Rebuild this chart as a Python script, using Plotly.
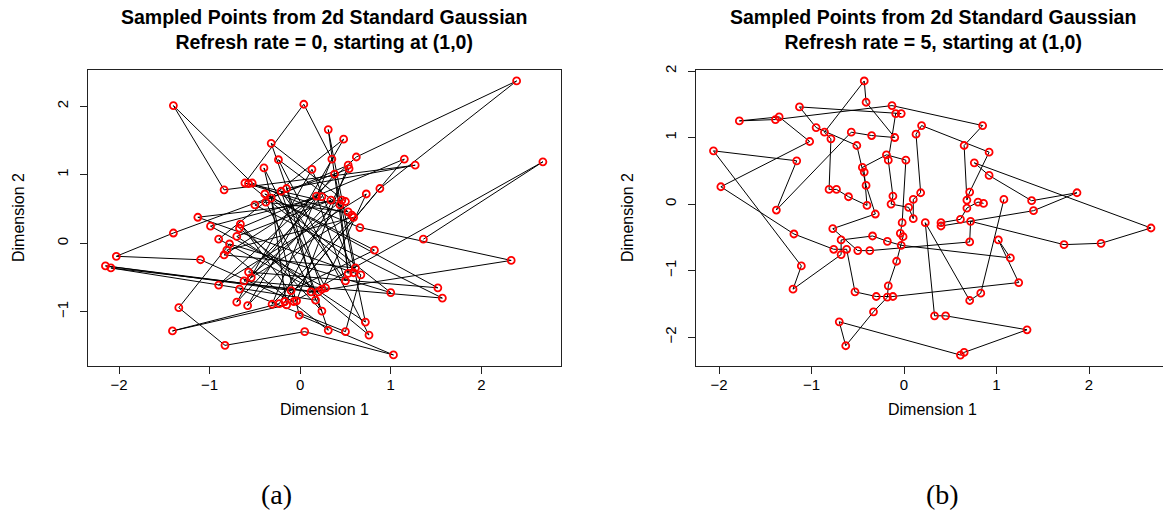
import plotly.graph_objects as go

# Panel (a): refresh rate 0 — samples in chain order
xa = [1.36, 2.68, -0.07, -1.10, -2.03, -1.40, 0.54, -0.23, -1.41, -0.15,
      -0.32, 1.00, -0.78, -1.34, -0.83, 0.05, 1.03, -0.01, -0.40, 0.28,
      -0.99, 0.24, -0.57, 1.52, -0.39, 0.82, -0.10, -2.15, 0.12, 2.33,
      0.66, -0.53, -1.40, -0.84, 1.27, -0.15, 0.17, -2.09, 0.20, -0.90,
      0.48, -0.58, 0.50, -0.32, 0.24, 0.73, -0.90, 0.62, 2.39, 0.88,
      -0.17, 1.15, -0.67, 0.76, -0.24, 0.53, -0.38, 0.24, -0.66, -0.04,
      0.53, -0.50, 1.57, -0.62, 0.46, -1.13, 0.59, 0.13, -0.70, 0.34,
      -0.70, 0.72, 0.38, -0.54, 0.57, -0.61, 0.04, 0.35, -0.31, 0.59,
      -0.81, 0.31, -0.21, 0.50, 0.18, -0.84, 0.61, 0.31, 0.53, 0.44,
      -0.57, 0.67, 0.50, -0.67]
ya = [0.06, 1.19, -0.85, -0.24, -0.19, 0.15, 1.09, -0.88, -1.28, -0.90,
      0.66, -0.72, -0.01, -0.94, -1.49, -1.29, -1.63, -1.05, 1.10, -0.65,
      0.25, 0.68, -0.42, -0.65, 0.72, -0.10, -0.69, -0.33, -0.71, -0.25,
      0.23, 0.88, 2.01, 0.78, 1.14, 0.80, -0.83, -0.36, -0.71, 0.06,
      1.52, -0.91, 0.61, 1.46, -0.67, 0.72, -0.61, 1.26, 2.37, 0.80,
      -0.85, 1.23, 0.22, -1.34, 1.22, 0.46, 0.60, -0.99, 0.28, -0.84,
      1.14, 0.56, -0.80, -0.55, 0.63, 0.38, -0.43, 1.08, -0.86, 0.63,
      0.10, -1.15, 1.01, -0.50, 0.41, 0.88, 2.03, 1.23, -0.89, 0.38,
      -0.10, -1.27, 0.76, -0.55, 0.69, -0.17, -0.36, 1.66, -0.44, 0.56,
      0.87, -0.46, -1.29, -0.67]

# Panel (b): refresh rate 5 — samples in chain order
xb = [1.08, 0.83, 0.71, 0.23, 0.33, 0.45, 1.33, 0.65, 0.61, -0.70,
      -0.63, -0.33, -0.18, -0.17, -0.08, -0.01, -0.04, -0.02, 0.02, -0.19,
      -0.45, -0.43, -0.40, -0.60, -0.73, -0.81, -0.79, -0.86, -0.43, -0.41,
      -0.10, -0.35, -0.57, -1.38, -1.16, -2.06, -1.11, -1.20, -0.68, -0.68,
      -0.34, -0.18, -0.03, 1.15, 1.02, 1.24, -0.12, -0.30, -0.53, -0.62,
      -0.76, -1.19, -1.98, -1.02, -1.35, -1.78, -1.39, -0.13, 0.85, 0.65,
      0.68, 0.71, 0.92, 0.19, 0.13, 0.18, 0.10, 0.10, 0.05, -0.14,
      -0.12, -0.17, -0.09, -0.03, -1.13, -0.95, -0.51, -0.41, -0.31, -0.77,
      -0.50, -0.37, 0.71, 0.72, 1.73, 2.13, 2.67, 0.76, 0.92, 1.38,
      1.87, 1.40, 0.40, 0.40, 0.61, 0.68, 0.80, 0.86]
yb = [0.07, -1.34, -1.45, -0.28, -1.68, -1.68, -1.89, -2.23, -2.27, -1.77,
      -2.13, -1.62, -1.40, -1.23, -0.86, -0.49, -0.44, -0.28, 0.66, 0.74,
      0.55, 0.48, -0.02, 0.11, 0.22, 0.22, 0.98, 1.08, 1.85, 1.53,
      1.00, 1.03, 1.08, -0.09, 0.65, 0.80, -0.93, -1.28, -0.76, -0.54,
      -0.48, -0.56, -0.62, -0.81, -0.54, -1.18, -1.39, -1.39, -1.32, -0.68,
      -0.68, -0.45, 0.26, 0.94, 1.31, 1.25, 1.27, 1.48, 1.18, 0.88,
      0.06, 0.18, 0.78, 1.18, 1.05, 0.17, 0.07, -0.22, -0.05, 0.00,
      0.12, 0.66, 1.36, 1.36, 1.46, 1.15, 0.88, 0.28, -0.15, -0.37,
      -0.70, -0.70, -0.57, -0.26, -0.61, -0.59, -0.36, 0.62, 0.43, 0.05,
      0.17, -0.10, -0.33, -0.28, -0.23, -0.06, 0.03, 0.01]

x_ticks = [-2, -1, 0, 1, 2]
ya_ticks = [-1, 0, 1, 2]
yb_ticks = [-2, -1, 0, 1, 2]

title_line1 = "Sampled Points from 2d Standard Gaussian"
title_a = "Refresh rate = 0, starting at (1,0)"
title_b = "Refresh rate = 5, starting at (1,0)"

W, H = 1163, 515
FONT = "Liberation Sans, Arial, sans-serif"


def px(x):
    return x / W


def py(y):
    return 1 - y / H


fig = go.Figure()
trace_style = dict(mode="lines+markers",
                   line=dict(color="black", width=1),
                   marker=dict(symbol="circle-open", size=7, color="red",
                               line=dict(color="red", width=1.8)),
                   showlegend=False, hoverinfo="skip")
fig.add_trace(go.Scatter(x=xa, y=ya, xaxis="x", yaxis="y", **trace_style))
fig.add_trace(go.Scatter(x=xb, y=yb, xaxis="x2", yaxis="y2", **trace_style))

ax_common = dict(showgrid=False, zeroline=False, showline=True,
                 linecolor="#222", linewidth=1, ticks="outside", ticklen=7,
                 tickwidth=1, tickcolor="#222", automargin=False,
                 tickfont=dict(family=FONT, size=15, color="black"))

ydom = [py(365.7), py(70)]
fig.update_layout(
    width=W, height=H,
    margin=dict(l=0, r=0, t=0, b=0, pad=0, autoexpand=False),
    paper_bgcolor="white", plot_bgcolor="white",
    xaxis=dict(domain=[px(87.7), px(561)], range=[-2.346, 2.88],
               tickvals=x_ticks, mirror=True, anchor="y",
               ticklabelstandoff=-2, **ax_common),
    yaxis=dict(domain=ydom, range=[-1.787, 2.53], tickvals=ya_ticks,
               tickangle=-90, mirror=True, anchor="x",
               ticklabelstandoff=6, **ax_common),
    xaxis2=dict(domain=[px(695.7), 1.0], range=[-2.252, 2.80],
                tickvals=x_ticks, mirror=True, anchor="y2",
                ticklabelstandoff=-2, **ax_common),
    yaxis2=dict(domain=ydom, range=[-2.43, 2.015], tickvals=yb_ticks,
                tickangle=-90, mirror=False, anchor="x2",
                ticklabelstandoff=6, **ax_common),
)

ann = []
for cx, sub in [(324.4, title_a), (932.6, title_b)]:
    ann.append(dict(x=px(cx), y=py(30), xref="paper", yref="paper",
                    text="<b>" + title_line1 + "</b><br><b>" + sub + "</b>",
                    showarrow=False, xanchor="center", yanchor="middle",
                    font=dict(family=FONT, size=19.5, color="black")))
    ann.append(dict(x=px(cx), y=py(409), xref="paper", yref="paper",
                    text="Dimension 1", showarrow=False, xanchor="center",
                    yanchor="middle",
                    font=dict(family=FONT, size=16, color="black")))
for cx in [18, 627]:
    ann.append(dict(x=px(cx), y=py(218), xref="paper", yref="paper",
                    text="Dimension 2", showarrow=False, textangle=-90,
                    xanchor="center", yanchor="middle",
                    font=dict(family=FONT, size=16, color="black")))
for cx, lab in [(276, "(a)"), (942, "(b)")]:
    ann.append(dict(x=px(cx), y=py(494), xref="paper", yref="paper",
                    text=lab, showarrow=False, xanchor="center",
                    yanchor="middle",
                    font=dict(family="Liberation Serif, DejaVu Serif, serif",
                              size=28, color="black")))
fig.update_layout(annotations=ann)

fig.write_html("out.html",
               config={"displayModeBar": False, "staticPlot": True},
               post_script="document.body.style.margin='0';"
                           "document.body.style.overflow='hidden';")
